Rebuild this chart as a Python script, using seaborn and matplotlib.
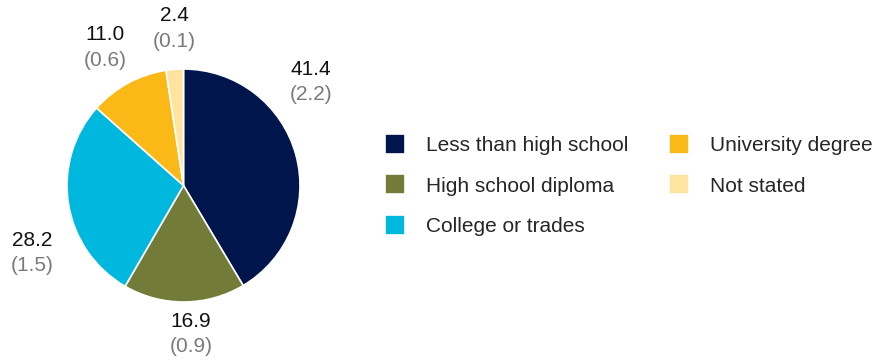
import matplotlib
matplotlib.use("Agg")
import matplotlib.pyplot as plt
import seaborn as sns

# data
categories = ["Less than high school", "High school diploma", "College or trades",
              "University degree", "Not stated"]
shares = [41.4, 16.9, 28.2, 11.0, 2.4]
std_errors = [2.2, 0.9, 1.5, 0.6, 0.1]
colors = ["#00154b", "#737b38", "#00b7dd", "#fbb917", "#fee49e"]

# label anchors in pie-radius units (value line)
label_x = [1.094, 0.064, -1.300, -0.674, -0.082]
label_y = [0.995, -1.167, -0.468, 1.292, 1.455]

sns.set_style("white")
plt.rcParams["font.family"] = ["Liberation Sans", "DejaVu Sans"]

fig = plt.figure(figsize=(8.84, 3.62), dpi=100)
ax = fig.add_axes([67 / 884, 60 / 362, 233 / 884, 233 / 362])

wedges, _ = ax.pie(
    shares,
    colors=colors,
    startangle=90,
    counterclock=False,
    wedgeprops={"edgecolor": "white", "linewidth": 1.2},
)
ax.set_xlim(-1, 1)
ax.set_ylim(-1, 1)
ax.axis("off")

# -----------------------------
# value labels with standard errors
# -----------------------------
for val, se, x, y in zip(shares, std_errors, label_x, label_y):
    ax.text(x, y, f"{val:.1f}", ha="center", va="center", fontsize=15, color="#111111")
    ax.text(x, y - 0.215, f"({se:.1f})", ha="center", va="center", fontsize=15, color="#7a7a7a")

# -----------------------------
# legend
# -----------------------------
fig.legend(
    wedges,
    categories,
    ncol=2,
    loc="center left",
    bbox_to_anchor=(385 / 884, 177 / 362),
    frameon=False,
    fontsize=15,
    handlelength=0.96,
    handleheight=1.1,
    handletextpad=1.0,
    columnspacing=1.95,
    labelspacing=0.95,
    borderpad=0,
    borderaxespad=0,
)

fig.savefig("out.png", dpi=100)
